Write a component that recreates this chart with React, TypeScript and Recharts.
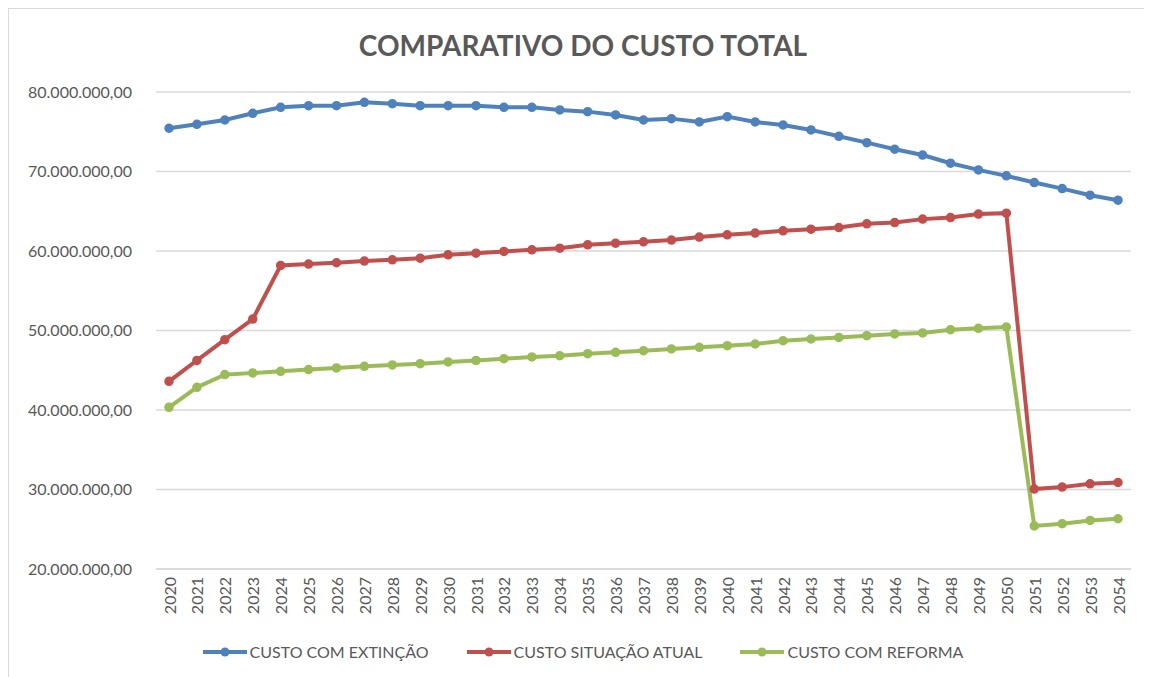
import React from 'react';
import { LineChart, Line, XAxis, YAxis, CartesianGrid, Legend } from 'recharts';

// Anos do horizonte de projeção
const YEARS = [
  '2020', '2021', '2022', '2023', '2024', '2025', '2026', '2027', '2028', '2029',
  '2030', '2031', '2032', '2033', '2034', '2035', '2036', '2037', '2038', '2039',
  '2040', '2041', '2042', '2043', '2044', '2045', '2046', '2047', '2048', '2049',
  '2050', '2051', '2052', '2053', '2054',
];

// Valores (R$)
const CUSTO_EXTINCAO = [
  75440000, 75940000, 76480000, 77320000, 78070000, 78280000, 78280000, 78700000, 78530000, 78280000,
  78280000, 78280000, 78070000, 78070000, 77740000, 77530000, 77110000, 76480000, 76650000, 76230000,
  76900000, 76230000, 75850000, 75230000, 74430000, 73630000, 72800000, 72070000, 71040000, 70200000,
  69450000, 68610000, 67850000, 67020000, 66390000,
];

const CUSTO_ATUAL = [
  43610000, 46240000, 48840000, 51440000, 58180000, 58350000, 58520000, 58730000, 58890000, 59100000,
  59520000, 59730000, 59940000, 60150000, 60360000, 60780000, 60990000, 61160000, 61370000, 61750000,
  62040000, 62250000, 62540000, 62750000, 62950000, 63420000, 63580000, 64010000, 64210000, 64640000,
  64760000, 30050000, 30300000, 30710000, 30880000,
];

const CUSTO_REFORMA = [
  40340000, 42850000, 44450000, 44660000, 44860000, 45080000, 45290000, 45490000, 45670000, 45830000,
  46040000, 46240000, 46460000, 46670000, 46830000, 47090000, 47250000, 47460000, 47680000, 47880000,
  48090000, 48300000, 48720000, 48930000, 49130000, 49350000, 49560000, 49700000, 50100000, 50270000,
  50440000, 25420000, 25700000, 26110000, 26320000,
];

const Y_TICKS = [20000000, 30000000, 40000000, 50000000, 60000000, 70000000, 80000000];

const SERIES = [
  { key: 'extincao', name: 'CUSTO COM EXTINÇÃO', color: '#4F81BD' },
  { key: 'atual', name: 'CUSTO SITUAÇÃO ATUAL', color: '#C0504D' },
  { key: 'reforma', name: 'CUSTO COM REFORMA', color: '#9BBB59' },
];

const data = YEARS.map((ano, i) => ({
  ano,
  extincao: CUSTO_EXTINCAO[i],
  atual: CUSTO_ATUAL[i],
  reforma: CUSTO_REFORMA[i],
}));

const FONT = 'Lato, "Open Sans", sans-serif';
const TEXT_COLOR = '#595959';

// 80000000 -> "80.000.000,00"
const formatBRL = (v: number) => {
  const inteiro = Math.round(v).toString().replace(/\B(?=(\d{3})+(?!\d))/g, '.');
  return `${inteiro},00`;
};

const YearTick = ({ x, y, payload }: any) => (
  <text
    x={x}
    y={y}
    transform={`rotate(-90, ${x}, ${y})`}
    textAnchor="end"
    dominantBaseline="central"
    fill={TEXT_COLOR}
    fontSize={16}
    fontFamily={FONT}
  >
    {payload.value}
  </text>
);

const LegendContent = () => (
  <div style={{ display: 'flex', justifyContent: 'center', gap: 38, paddingLeft: 26, fontFamily: FONT, fontSize: 16, color: TEXT_COLOR, lineHeight: '20px' }}>
    {SERIES.map((s) => (
      <div key={s.key} style={{ display: 'flex', alignItems: 'center' }}>
        <svg width={44} height={12} style={{ marginRight: 3 }}>
          <line x1={0} y1={6} x2={44} y2={6} stroke={s.color} strokeWidth={4} />
          <circle cx={22} cy={6} r={4.5} fill={s.color} />
        </svg>
        <span>{s.name}</span>
      </div>
    ))}
  </div>
);

export default function App() {
  return (
    <div style={{ position: 'relative', width: 1143, height: 668, borderLeft: '1px solid #d9d9d9', borderTop: '1px solid #d9d9d9', background: '#fff' }}>
      <div
        style={{
          position: 'absolute', top: 19, left: 0, width: 1148, textAlign: 'center',
          fontFamily: FONT, fontWeight: 700, fontSize: 28, color: TEXT_COLOR,
        }}
      >
        COMPARATIVO DO CUSTO TOTAL
      </div>
      <LineChart width={1143} height={668} data={data} margin={{ top: 83, right: 21, left: 0, bottom: 15 }}>
        <CartesianGrid horizontal vertical={false} stroke="#d9d9d9" strokeWidth={1.3} />
        <XAxis
          dataKey="ano"
          interval={0}
          tickLine={false}
          axisLine={{ stroke: '#d9d9d9', strokeWidth: 1.3 }}
          tick={<YearTick />}
          height={73}
          padding={{ left: 13, right: 13 }}
        />
        <YAxis
          domain={[20000000, 80000000]}
          ticks={Y_TICKS}
          tickFormatter={formatBRL}
          axisLine={false}
          tickLine={false}
          tickMargin={18}
          width={147}
          tick={{ fill: TEXT_COLOR, fontSize: 16, fontFamily: FONT }}
        />
        <Legend verticalAlign="bottom" content={<LegendContent />} />
        {SERIES.map((s) => (
          <Line
            key={s.key}
            type="linear"
            dataKey={s.key}
            name={s.name}
            stroke={s.color}
            strokeWidth={4}
            dot={{ r: 4, fill: s.color, stroke: s.color, strokeWidth: 1.5 }}
            isAnimationActive={false}
          />
        ))}
      </LineChart>
    </div>
  );
}
